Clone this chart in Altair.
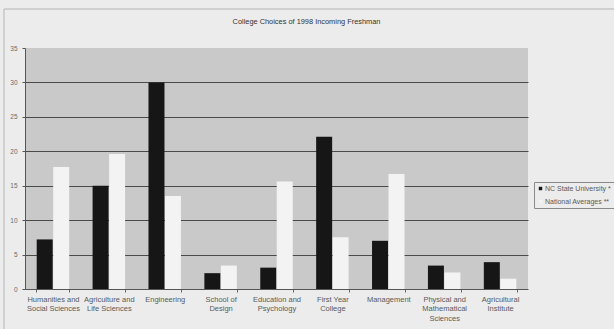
import altair as alt
import pandas as pd

categories = ["Humanities and|Social Sciences", "Agriculture and|Life Sciences", "Engineering",
              "School of|Design", "Education and|Psychology", "First Year|College", "Management",
              "Physical and|Mathematical|Sciences", "Agricultural|Institute"]
ncsu = [7.2, 15.0, 30.0, 2.3, 3.1, 22.1, 7.0, 3.4, 3.9]
national = [17.7, 19.6, 13.5, 3.4, 15.6, 7.5, 16.7, 2.4, 1.5]
series = ["NC State University *", "National Averages **"]
y_ticks = [0, 5, 10, 15, 20, 25, 30, 35]

rows = []
for c, a, b in zip(categories, ncsu, national):
    rows.append({"college": c, "series": series[0], "value": a})
    rows.append({"college": c, "series": series[1], "value": b})
df = pd.DataFrame(rows)

FONT = "Liberation Sans"

border = alt.Chart(pd.DataFrame({"k": [0]})).mark_rect(
    fill=None, stroke="#b5b5b5", strokeWidth=1, clip=False
).encode(x=alt.value(-21), x2=alt.value(620), y=alt.value(-39), y2=alt.value(300))

bars = alt.Chart(df).mark_bar(size=16).encode(
    x=alt.X("college:N", sort=categories, title=None,
            scale=alt.Scale(paddingInner=0.41, paddingOuter=0.205),
            axis=alt.Axis(labelExpr="split(datum.label, '|')", labelAngle=0,
                          labelFont=FONT, labelFontSize=7.5, labelColor="#5a5a5a",
                          labelPadding=3, labelLineHeight=9.5,
                          tickBand="extent", tickSize=3, tickColor="#666666",
                          domainColor="#555555", grid=False)),
    xOffset=alt.XOffset("series:N", sort=series,
                        scale=alt.Scale(paddingInner=0.0, paddingOuter=0.0)),
    y=alt.Y("value:Q", title=None,
            scale=alt.Scale(domain=[0, 35], nice=False),
            axis=alt.Axis(values=y_ticks, labelFont=FONT, labelFontSize=6.5,
                          labelColor="#6a6a6a", labelPadding=5, tickSize=3,
                          tickColor="#555555", domainColor="#555555",
                          grid=True, gridColor="#4a4a4a", gridWidth=1,
                          gridOpacity=alt.expr("datum.value > 0 && datum.value < 35 ? 1 : 0"))),
    color=alt.Color("series:N", sort=series,
                    scale=alt.Scale(domain=series, range=["#161616", "#f3f3f3"]),
                    legend=alt.Legend(title=None, orient="none", legendX=509, legendY=134,
                                      symbolType="square", symbolSize=12,
                                      symbolStrokeWidth=0,
                                      labelFont=FONT, labelFontSize=7, labelColor="#5a5a5a",
                                      labelOffset=1, rowPadding=5,
                                      strokeColor="#8a8a8a", padding=3,
                                      fillColor="#ececec")),
)

chart = alt.layer(bars, border).properties(
    width=503, height=241,
    title=alt.TitleParams("College Choices of 1998 Incoming Freshman", font=FONT,
                          fontSize=7.4, fontWeight="normal", color="#333333",
                          anchor="middle", dx=30, offset=-17),
).configure(
    background="#ececec",
    padding={"left": 25, "top": 48, "right": 86, "bottom": 40},
    autosize=alt.AutoSizeParams(type="none"),
).configure_view(
    fill="#c9c9c9", stroke=None,
)

chart.save("out.html", embed_options={"renderer": "svg", "actions": False})
